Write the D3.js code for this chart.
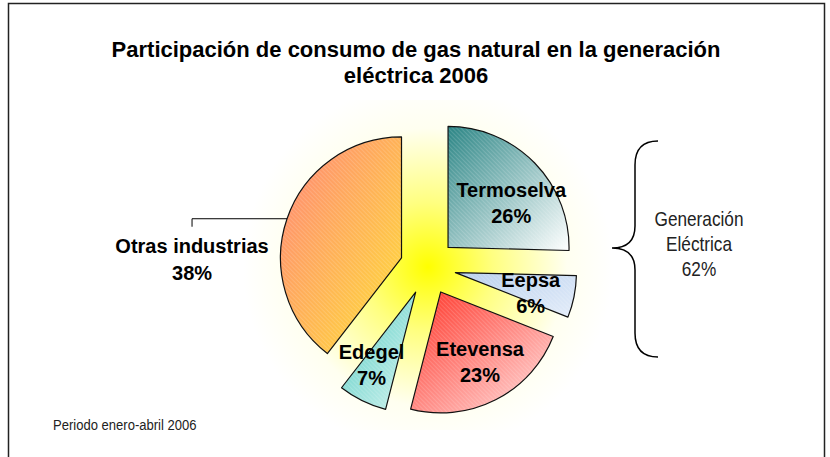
<!DOCTYPE html>
<html>
<head>
<meta charset="utf-8">
<script src="https://cdn.jsdelivr.net/npm/d3@7"></script>
<style>
  body { margin: 0; background: #fff; }
  svg { display: block; font-family: Arial, "Liberation Sans", sans-serif; }
</style>
</head>
<body>
<svg width="830" height="457"></svg>
<script>
"use strict";

// slice sizes (percent, clockwise from 12 o'clock)
const categories = ["Termoselva", "Eepsa", "Etevensa", "Edegel", "Otras industrias"];
const shares = [25.4, 5.6, 23.0, 6.5, 39.5];
// percentages as printed on the chart
const shareLabels = ["26%", "6%", "23%", "7%", "38%"];
const title = ["Participación de consumo de gas natural en la generación", "eléctrica 2006"];
const groupLabel = ["Generación", "Eléctrica", "62%"];
const footnote = "Periodo enero-abril 2006";

// gradient colours for each slice (start, end)
const sliceColors = [
    ["#2b8585", "#ffffff"],
    ["#b9d0ee", "#e4edf9"],
    ["#ff3326", "#ffe2e2"],
    ["#55cbc2", "#d4f4f0"],
    ["#ff8478", "#ffe135"]
];

const svg = d3.select("svg");
const cx = 428, cy = 267, radius = 121, explode = 28;
// small hand nudges so the inside labels sit where Excel put them
const labelShift = [[6, 11], [-3, 4], [3, -1], [-9, 1]];

const defs = svg.append("defs");

// yellow glow behind the pie
const glow = defs.append("radialGradient").attr("id", "glow")
    .attr("gradientUnits", "userSpaceOnUse")
    .attr("cx", cx).attr("cy", cy).attr("r", 185);
glow.append("stop").attr("offset", 0).attr("stop-color", "#ffff00");
glow.append("stop").attr("offset", 0.35).attr("stop-color", "#ffff80");
glow.append("stop").attr("offset", 0.75).attr("stop-color", "#fffff0");
glow.append("stop").attr("offset", 1).attr("stop-color", "#ffffff");

sliceColors.forEach((c, i) => {
    const g = defs.append("linearGradient").attr("id", "grad" + i)
        .attr("x1", 0).attr("y1", 0).attr("x2", 1).attr("y2", 1);
    g.append("stop").attr("offset", 0).attr("stop-color", c[0]);
    g.append("stop").attr("offset", 1).attr("stop-color", c[1]);
});

// fine diagonal hatch laid over the gradients
const hatch = defs.append("pattern").attr("id", "hatch")
    .attr("patternUnits", "userSpaceOnUse")
    .attr("width", 3).attr("height", 3)
    .attr("patternTransform", "rotate(-45)");
hatch.append("line")
    .attr("x1", 0).attr("y1", 0).attr("x2", 0).attr("y2", 3)
    .attr("stroke", "#ffffff").attr("stroke-width", 1).attr("stroke-opacity", 0.3);

// outer frame
svg.append("rect")
    .attr("x", 8.5).attr("y", 3.5)
    .attr("width", 816).attr("height", 470)
    .attr("fill", "#fff")
    .attr("stroke", "#222").attr("stroke-width", 1.5);

svg.append("rect")
    .attr("x", 240).attr("y", 100)
    .attr("width", 380).attr("height", 330)
    .attr("fill", "url(#glow)");

// title
svg.append("text")
    .attr("text-anchor", "middle")
    .attr("font-size", 22).attr("font-weight", "bold")
    .selectAll("tspan")
    .data(title)
    .join("tspan")
    .attr("x", 416)
    .attr("y", (d, i) => 57 + i * 26)
    .text(d => d);

const pie = d3.pie().sort(null).value(d => d);
const arcs = pie(shares);
const arc = d3.arc().innerRadius(0).outerRadius(radius);

const offset = d => {
    const a = (d.startAngle + d.endAngle) / 2;
    return [Math.sin(a) * explode, -Math.cos(a) * explode];
};

const slices = svg.append("g")
    .attr("transform", `translate(${cx},${cy})`)
    .selectAll("g")
    .data(arcs)
    .join("g")
    .attr("transform", d => `translate(${offset(d)})`);

slices.append("path")
    .attr("d", arc)
    .attr("fill", (d, i) => `url(#grad${i})`);
slices.append("path")
    .attr("d", arc)
    .attr("fill", "url(#hatch)")
    .attr("stroke", "#111").attr("stroke-width", 1.2)
    .attr("stroke-linejoin", "round");

// inside labels
const labelArc = d3.arc().innerRadius(radius * 0.66).outerRadius(radius * 0.66);
slices.filter((d, i) => i < 4)
    .append("text")
    .attr("transform", (d, i) => {
        const c = labelArc.centroid(d);
        return `translate(${c[0] + labelShift[i][0]},${c[1] + labelShift[i][1]})`;
    })
    .attr("text-anchor", "middle")
    .attr("font-size", 20).attr("font-weight", "bold")
    .selectAll("tspan")
    .data((d, i) => [categories[i], shareLabels[i]])
    .join("tspan")
    .attr("x", 0)
    .attr("y", (t, j) => j === 0 ? -6 : 20)
    .text(t => t);

// outside label for the last slice, with a leader line
const last = arcs[4];
const lastMid = (last.startAngle + last.endAngle) / 2;
const off = offset(last);
const px = cx + off[0] + Math.sin(lastMid) * radius;
const py = cy + off[1] - Math.cos(lastMid) * radius;
const lx = px - 95;

svg.append("path")
    .attr("d", `M${px},${py}H${lx}V${py + 8}`)
    .attr("fill", "none")
    .attr("stroke", "#000").attr("stroke-width", 1);

svg.append("text")
    .attr("text-anchor", "middle")
    .attr("font-size", 20).attr("font-weight", "bold")
    .selectAll("tspan")
    .data([categories[4], shareLabels[4]])
    .join("tspan")
    .attr("x", lx)
    .attr("y", (t, j) => py + 34 + j * 27)
    .text(t => t);

// brace grouping the power generation slices
const bx = 635, btop = 141, bmid = 248, bbot = 357;
svg.append("path")
    .attr("d", `M${bx + 23},${btop} Q${bx},${btop} ${bx},${btop + 24} V${bmid - 22} Q${bx},${bmid} ${bx - 23},${bmid}
                Q${bx},${bmid} ${bx},${bmid + 22} V${bbot - 24} Q${bx},${bbot} ${bx + 23},${bbot}`)
    .attr("fill", "none")
    .attr("stroke", "#000").attr("stroke-width", 1.5);

// narrow regular text: squeeze Arial horizontally
svg.append("g")
    .attr("transform", "translate(699,0) scale(0.82,1)")
    .append("text")
    .attr("text-anchor", "middle")
    .attr("font-size", 21)
    .attr("fill", "#222")
    .selectAll("tspan")
    .data(groupLabel)
    .join("tspan")
    .attr("x", 0)
    .attr("y", (t, j) => 226 + j * 25)
    .text(t => t);

svg.append("g")
    .attr("transform", "translate(53,430) scale(0.87,1)")
    .append("text")
    .attr("font-size", 15)
    .attr("fill", "#222")
    .text(footnote);
</script>
</body>
</html>
